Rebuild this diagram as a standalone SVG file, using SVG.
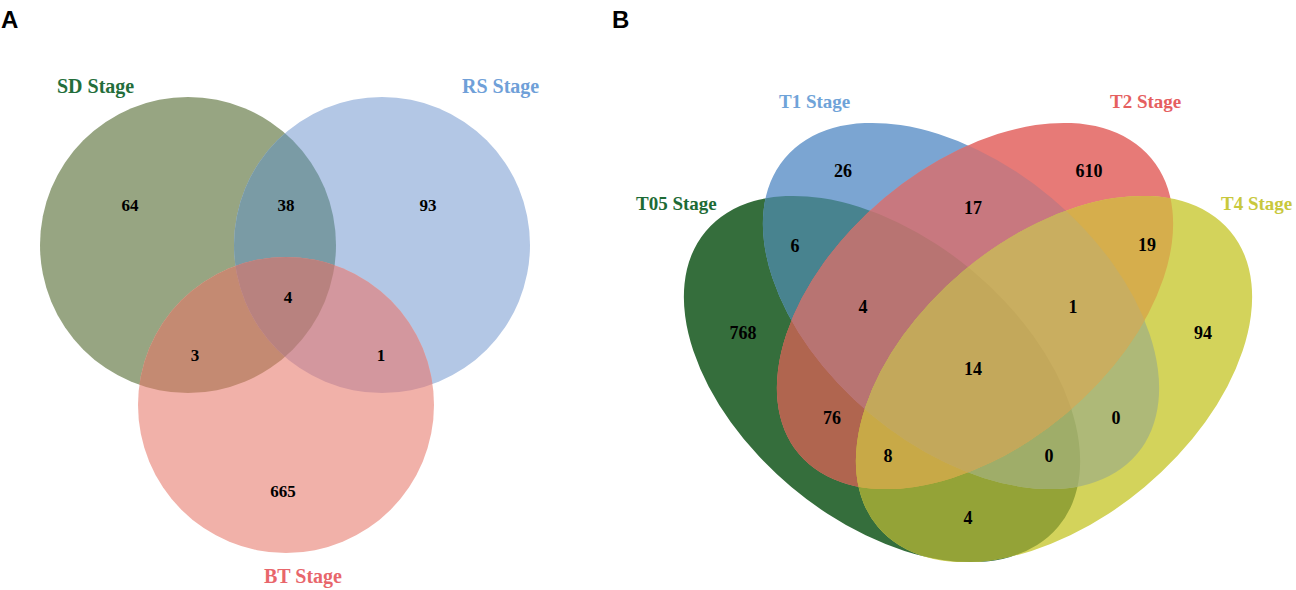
<svg xmlns="http://www.w3.org/2000/svg" width="1296" height="590" viewBox="0 0 1296 590">
<style>
.panel{font-family:"Liberation Sans",Arial,sans-serif;font-weight:bold;font-size:24px;fill:#000}
.la{font-family:"Liberation Serif","Times New Roman",serif;font-weight:bold;font-size:20px}
.lb{font-family:"Liberation Serif","Times New Roman",serif;font-weight:bold;font-size:19px}
.n{font-family:"Liberation Serif","Times New Roman",serif;font-weight:bold;font-size:17px;text-anchor:middle;fill:#000}
.nb{font-family:"Liberation Serif","Times New Roman",serif;font-weight:bold;font-size:18px;text-anchor:middle;fill:#000}
</style>
<defs>
  <circle id="cSD" cx="188" cy="245" r="148"/>
  <circle id="cRS" cx="382" cy="245" r="148"/>
  <circle id="cBT" cx="286" cy="405" r="148"/>
  <clipPath id="kSD"><circle cx="188" cy="245" r="148"/></clipPath>
  <clipPath id="kRS"><circle cx="382" cy="245" r="148"/></clipPath>
  <ellipse id="eT05" cx="882" cy="379" rx="230" ry="141" transform="rotate(40 882 379)"/>
  <ellipse id="eT1" cx="961" cy="306" rx="230" ry="141" transform="rotate(40 961 306)"/>
  <ellipse id="eT2" cx="975" cy="306" rx="230" ry="141" transform="rotate(-40 975 306)"/>
  <ellipse id="eT4" cx="1054" cy="379" rx="230" ry="141" transform="rotate(-40 1054 379)"/>
  <clipPath id="kT05"><ellipse cx="882" cy="379" rx="230" ry="141" transform="rotate(40 882 379)"/></clipPath>
  <clipPath id="kT1"><ellipse cx="961" cy="306" rx="230" ry="141" transform="rotate(40 961 306)"/></clipPath>
  <clipPath id="kT2"><ellipse cx="975" cy="306" rx="230" ry="141" transform="rotate(-40 975 306)"/></clipPath>
</defs>
<rect width="1296" height="590" fill="#fff"/>

<g id="panel-A">
  <text class="panel" x="1" y="28">A</text>
  <g id="set-SD"><use href="#cSD" fill="#97a582"/><text class="la" x="57" y="93" fill="#236e3b">SD Stage</text></g>
  <g id="set-RS"><use href="#cRS" fill="#b3c7e5"/><text class="la" x="462" y="93" fill="#6fa0d8">RS Stage</text></g>
  <g id="set-BT"><use href="#cBT" fill="#f1b1a9"/><text class="la" x="264" y="583" fill="#e8666b">BT Stage</text></g>
  <g id="overlaps-A">
    <g clip-path="url(#kSD)"><use href="#cRS" fill="#7a9ba5"/><use href="#cBT" fill="#c48a72"/></g>
    <g clip-path="url(#kRS)"><use href="#cBT" fill="#d3979e"/></g>
    <g clip-path="url(#kSD)"><g clip-path="url(#kRS)"><use href="#cBT" fill="#b8827f"/></g></g>
  </g>
  <g id="counts-A">
    <text class="n" x="130" y="211">64</text>
    <text class="n" x="286" y="211">38</text>
    <text class="n" x="428" y="211">93</text>
    <text class="n" x="288" y="303">4</text>
    <text class="n" x="195" y="361">3</text>
    <text class="n" x="381" y="361" font-weight="normal">1</text>
    <text class="n" x="283" y="497">665</text>
  </g>
</g>

<g id="panel-B">
  <text class="panel" x="612" y="28">B</text>
  <g id="set-T05"><use href="#eT05" fill="#356e3c"/><text class="lb" x="636" y="210" fill="#1d6b35">T05 Stage</text></g>
  <g id="set-T1"><use href="#eT1" fill="#7ba5d2"/><text class="lb" x="779" y="108" fill="#6fa3d8">T1 Stage</text></g>
  <g id="set-T2"><use href="#eT2" fill="#e77a77"/><text class="lb" x="1110" y="108" fill="#e5605f">T2 Stage</text></g>
  <g id="set-T4"><use href="#eT4" fill="#d3d35b"/><text class="lb" x="1221" y="210" fill="#c8c83c">T4 Stage</text></g>
  <g id="overlaps-B">
    <g clip-path="url(#kT05)"><use href="#eT1" fill="#48838f"/><use href="#eT2" fill="#b0654f"/><use href="#eT4" fill="#94a337"/></g>
    <g clip-path="url(#kT1)"><use href="#eT2" fill="#c8787f"/><use href="#eT4" fill="#aeb978"/></g>
    <g clip-path="url(#kT2)"><use href="#eT4" fill="#d6ae4c"/></g>
    <g clip-path="url(#kT05)">
      <g clip-path="url(#kT1)"><use href="#eT2" fill="#b87472"/><use href="#eT4" fill="#9fad69"/></g>
      <g clip-path="url(#kT2)"><use href="#eT4" fill="#c8a947"/></g>
    </g>
    <g clip-path="url(#kT1)"><g clip-path="url(#kT2)"><use href="#eT4" fill="#c9ae60"/></g></g>
    <g clip-path="url(#kT05)"><g clip-path="url(#kT1)"><g clip-path="url(#kT2)"><use href="#eT4" fill="#c3a85b"/></g></g></g>
  </g>
  <g id="counts-B">
    <text class="nb" x="843" y="177">26</text>
    <text class="nb" x="1089" y="177">610</text>
    <text class="nb" x="973" y="214">17</text>
    <text class="nb" x="795" y="252">6</text>
    <text class="nb" x="1147" y="251">19</text>
    <text class="nb" x="863" y="313">4</text>
    <text class="nb" x="1073" y="313">1</text>
    <text class="nb" x="743" y="339">768</text>
    <text class="nb" x="1203" y="339">94</text>
    <text class="nb" x="973" y="375">14</text>
    <text class="nb" x="832" y="424">76</text>
    <text class="nb" x="1116" y="424">0</text>
    <text class="nb" x="888" y="462">8</text>
    <text class="nb" x="1049" y="462">0</text>
    <text class="nb" x="968" y="524">4</text>
  </g>
</g>
</svg>
